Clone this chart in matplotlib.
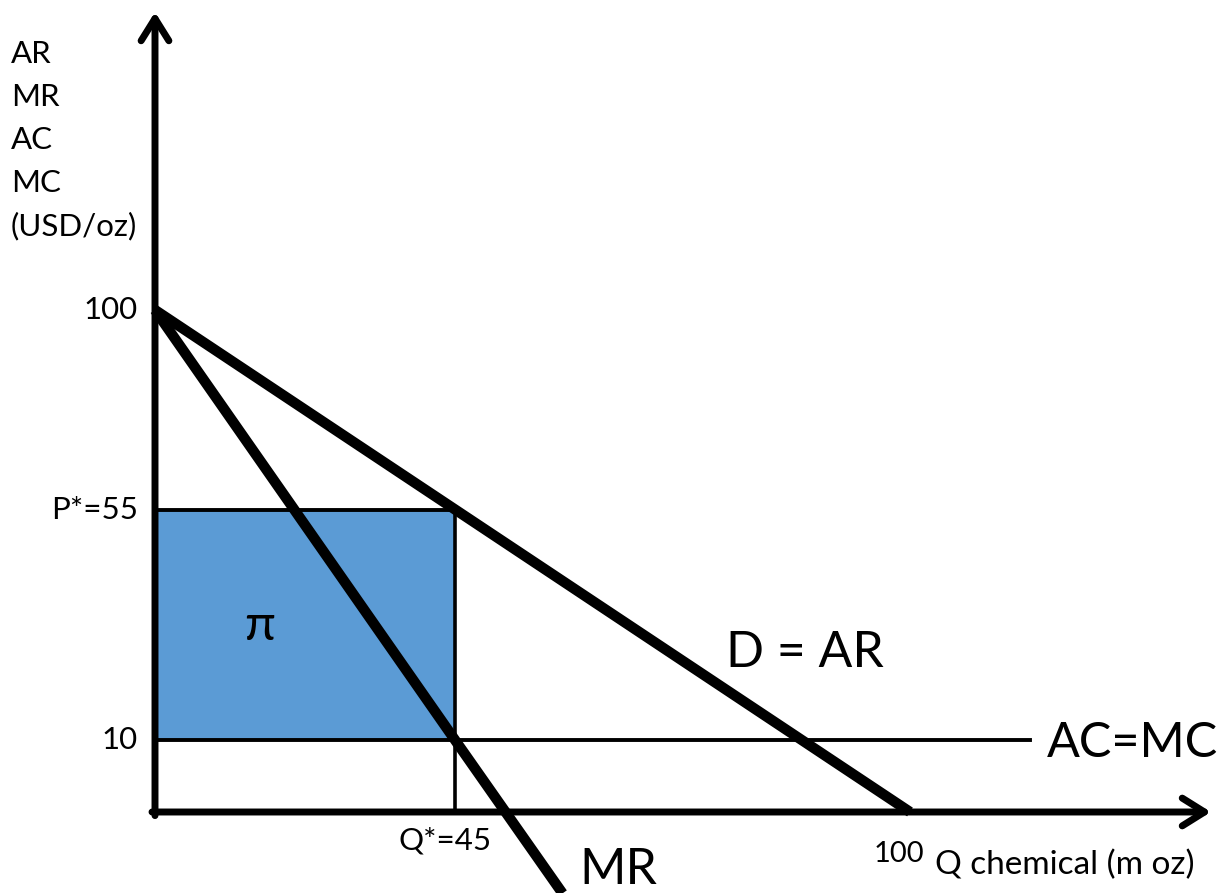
import numpy as np
import matplotlib
matplotlib.use('Agg')
import matplotlib.pyplot as plt

plt.rcParams['font.family'] = ['Lato', 'DejaVu Sans']

# ---- data (schematic monopoly diagram) ----
q_demand = [0, 100]          # D = AR
p_demand = [100, 0]
q_mr = [0, 45, 58]           # MR
mr_vals = [100, 10, -11.3]
q_cost = [0, 114.5]          # AC = MC
cost_vals = [10, 10]
q_star = 45
p_star = 55
unit_cost = 10
y_tick_vals = [100, 55, 10]
y_tick_labels = ['100', 'P*=55', '10']
y_axis_labels = ['AR', 'MR', 'AC', 'MC', '(USD/oz)']

W, H = 1231, 893

# The drawing is hand-made (not to scale): piecewise-linear axis scales
x_knots = np.array([-100.0, 0.0, 45.0, 100.0, 300.0])
x_px = np.array([155 - 100 * 300 / 45, 155, 455, 910, 910 + 200 * 455 / 55])
y_knots = np.array([-100.0, 0.0, 10.0, 55.0, 100.0, 300.0])
y_px = np.array([81 - 720, 81, 153, 383, 583, 583 + 200 * 200 / 45])

def xf(v):
    return np.interp(v, x_knots, x_px)

def xi(p):
    return np.interp(p, x_px, x_knots)

def yf(v):
    return np.interp(v, y_knots, y_px)

def yi(p):
    return np.interp(p, y_px, y_knots)

fig = plt.figure(figsize=(W / 100, H / 100), dpi=100)
ax = fig.add_axes([0, 0, 1, 1])
ax.set_xscale('function', functions=(xf, xi))
ax.set_yscale('function', functions=(yf, yi))
ax.set_xlim(float(xi(0)), float(xi(W)))
ax.set_ylim(float(yi(0)), float(yi(H)))
ax.axis('off')

blue = '#5B9BD5'

# profit rectangle
ax.fill_between([0, q_star], unit_cost, p_star, color=blue, lw=0, zorder=1)
ax.plot([0, q_star], [p_star, p_star], color='black', lw=2.8, zorder=2)
ax.plot([q_star, q_star], [0, p_star], color='black', lw=2.6, zorder=2)

# AC = MC
ax.plot(q_cost, cost_vals, color='black', lw=2.8, zorder=2)

# D = AR and MR
ax.plot(q_demand, p_demand, color='black', lw=7.5, solid_capstyle='butt', zorder=3)
ax.plot(q_mr, mr_vals, color='black', lw=7.5, solid_capstyle='butt', zorder=3)

# axes with arrows
y_top = float(yi(H - 12))
x_right = float(xi(1211))
arrow = dict(arrowstyle='->,head_length=0.8,head_width=0.5', lw=5,
             color='black', shrinkA=0, shrinkB=0, mutation_scale=20)
ax.annotate('', xy=(0, y_top), xytext=(0, -0.5), arrowprops=arrow, zorder=4)
ax.annotate('', xy=(x_right, 0), xytext=(-0.45, 0), arrowprops=arrow, zorder=4)

# y tick labels
ytr = ax.get_yaxis_transform()
for v, lab in zip(y_tick_vals, y_tick_labels):
    ax.text(138 / W, v, lab, transform=ytr, ha='right', va='center',
            fontsize=22.5)

def ftext(x, y, s, **kw):
    fig.text(x / W, 1 - y / H, s, **kw)

# y axis title
for lab, yb in zip(y_axis_labels, [63, 106, 149, 192, 235]):
    ftext(11, yb, lab, ha='left', va='baseline', fontsize=22.5)

ftext(445, 850, 'Q*=45', ha='center', va='baseline', fontsize=22.5)
ftext(874, 862, '100', ha='left', va='baseline', fontsize=21)
ftext(935, 874, 'Q chemical (m oz)', ha='left', va='baseline', fontsize=24)
ftext(618, 884, 'MR', ha='center', va='baseline', fontsize=36)
ftext(805, 667, 'D = AR', ha='center', va='baseline', fontsize=36)
ftext(1132, 757, 'AC=MC', ha='center', va='baseline', fontsize=35)
ftext(260, 640, 'π', ha='center', va='baseline', fontsize=36)

fig.savefig('out.png', dpi=100)
